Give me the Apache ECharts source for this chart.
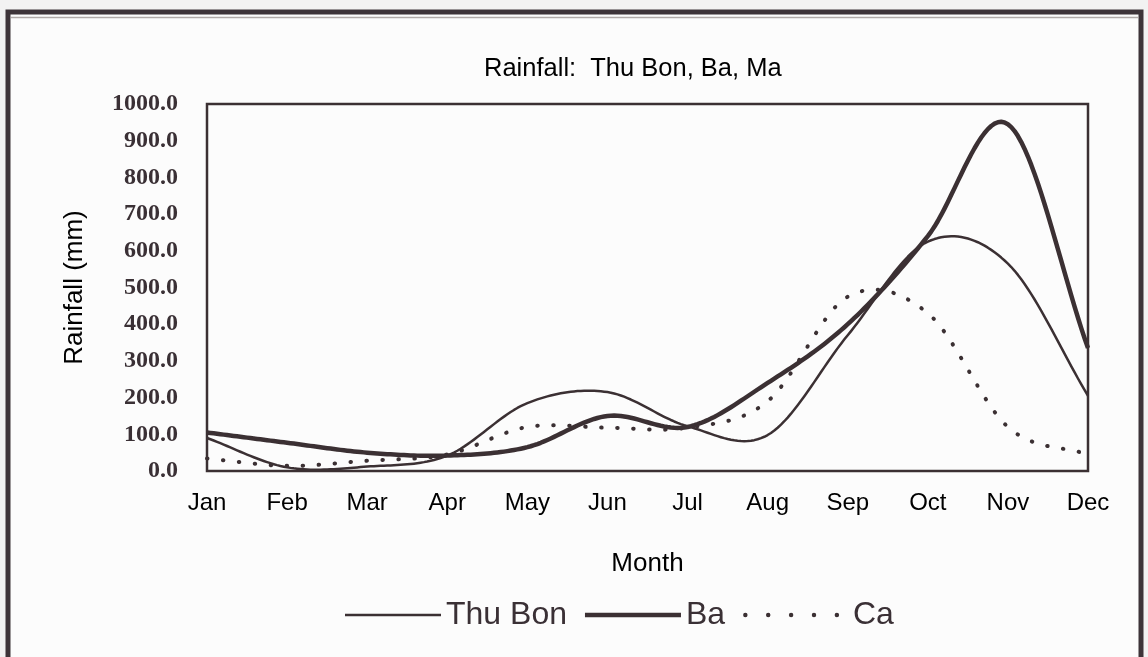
<!DOCTYPE html>
<html>
<head>
<meta charset="utf-8">
<script src="https://cdn.jsdelivr.net/npm/echarts@6/dist/echarts.min.js"></script>
<style>
html,body{margin:0;padding:0;background:#f2f2f2;}
#chart{width:1148px;height:657px;}
</style>
</head>
<body>
<div id="chart"></div>
<script>
var months = ['Jan','Feb','Mar','Apr','May','Jun','Jul','Aug','Sep','Oct','Nov','Dec'];
var thuBon = [90, 10, 12, 42, 185, 215, 122, 98, 370, 625, 565, 205];
var ba     = [105, 77, 50, 42, 65, 150, 120, 240, 400, 640, 945, 335];
var ca     = [34, 14, 28, 45, 120, 118, 118, 190, 475, 430, 120, 45];
var yTicks = {min: 0, max: 1000, interval: 100};

var ink = '#3b3033';

// Excel-style (Catmull-Rom) smoothed line through the monthly points, in pixel space
function splineRenderer(values, width, dash) {
  return function (params, api) {
    if (params.dataIndex !== 0) return null;
    var p = values.map(function (v, i) { return api.coord([i, v]); });
    var n = p.length, out = [], steps = 24;
    for (var i = 0; i < n - 1; i++) {
      var p0 = p[Math.max(i - 1, 0)], p1 = p[i], p2 = p[i + 1], p3 = p[Math.min(i + 2, n - 1)];
      var m1 = [(p2[0] - p0[0]) / 2, (p2[1] - p0[1]) / 2];
      var m2 = [(p3[0] - p1[0]) / 2, (p3[1] - p1[1]) / 2];
      if (i === 0) m1 = [(p2[0] - p1[0]), (p2[1] - p1[1])];
      if (i === n - 2) m2 = [(p2[0] - p1[0]), (p2[1] - p1[1])];
      for (var s = (i === 0 ? 0 : 1); s <= steps; s++) {
        var t = s / steps, t2 = t * t, t3 = t2 * t;
        var h00 = 2 * t3 - 3 * t2 + 1, h10 = t3 - 2 * t2 + t, h01 = -2 * t3 + 3 * t2, h11 = t3 - t2;
        out.push([
          h00 * p1[0] + h10 * m1[0] + h01 * p2[0] + h11 * m2[0],
          h00 * p1[1] + h10 * m1[1] + h01 * p2[1] + h11 * m2[1]
        ]);
      }
    }
    var style = {stroke: ink, lineWidth: width, fill: 'none', lineJoin: 'round'};
    if (dash) { style.lineDash = dash; style.lineCap = 'round'; }
    return {type: 'polyline', shape: {points: out}, style: style};
  };
}

function dotsIcon() {
  var d = '';
  for (var k = 0; k < 5; k++) {
    var cx = 2 + k * 20.5;
    d += 'M' + cx + ',0 A2,2 0 1 1 ' + cx + ',4 A2,2 0 1 1 ' + cx + ',0 Z ';
  }
  return 'path://' + d;
}

function pairs(values) { return values.map(function (v, i) { return [i, v]; }); }

var chart = echarts.init(document.getElementById('chart'));
chart.setOption({
  backgroundColor: '#f2f2f2',
  animation: false,
  graphic: [
    {type:'rect', z:-10, silent:true, shape:{x:8, y:12, width:1133, height:700},
     style:{fill:'#fcfcfc', stroke:'#3d3439', lineWidth:5}},
    {type:'line', z:-9, silent:true, shape:{x1:11, y1:17.5, x2:1138, y2:17.5},
     style:{stroke:'#b0aaa8', lineWidth:1.5}}
  ],
  title: {
    text: 'Rainfall:  Thu Bon, Ba, Ma',
    left: 484, top: 56, padding: 0,
    textStyle: {fontFamily:'Liberation Sans', fontSize:25.5, fontWeight:'normal', color:'#000'}
  },
  legend: {
    left: 340, top: 594,
    itemWidth: 96, itemHeight: 14, itemGap: 18,
    symbolKeepAspect: true,
    textStyle: {fontFamily:'Liberation Sans', fontSize:32, color:'#3a3035'},
    formatter: function (name) { return name === 'Ca' ? ' Ca' : name; },
    data: [
      {name:'Thu Bon', icon:'path://M0,0H96V2.5H0Z'},
      {name:'Ba', icon:'path://M0,0H96V4.5H0Z'},
      {name:'Ca', icon: dotsIcon()}
    ]
  },
  grid: {
    left: 207, right: 60, top: 104, bottom: 186,
    show: true, borderColor: ink, borderWidth: 2.5, backgroundColor: 'transparent'
  },
  xAxis: {
    type: 'category', data: months, boundaryGap: false,
    axisLine: {show:false}, axisTick: {show:false}, splitLine: {show:false},
    axisLabel: {fontFamily:'Liberation Sans', fontSize:24, color:'#000', margin:20},
    name: 'Month', nameLocation: 'middle', nameGap: 80,
    nameTextStyle: {fontFamily:'Liberation Sans', fontSize:26, color:'#000'}
  },
  yAxis: {
    type: 'value', min: yTicks.min, max: yTicks.max, interval: yTicks.interval,
    axisLine: {show:false}, axisTick: {show:false}, splitLine: {show:false},
    axisLabel: {fontFamily:'Liberation Serif', fontWeight:'bold', fontSize:24, color:'#3a3035', margin:29,
      formatter: function(v){ return v.toFixed(1); }},
    name: 'Rainfall (mm)', nameLocation: 'middle', nameGap: 119,
    nameTextStyle: {fontFamily:'Liberation Sans', fontSize:26, color:'#000'}
  },
  series: [
    {name:'Thu Bon', type:'custom', data: pairs(thuBon), itemStyle:{color:ink},
     encode:{x:0, y:1}, renderItem: splineRenderer(thuBon, 2.5)},
    {name:'Ba', type:'custom', data: pairs(ba), itemStyle:{color:ink},
     encode:{x:0, y:1}, renderItem: splineRenderer(ba, 4.5)},
    {name:'Ca', type:'custom', data: pairs(ca), itemStyle:{color:ink},
     encode:{x:0, y:1}, renderItem: splineRenderer(ca, 4, [0.5, 15.5])}
  ]
});
</script>
</body>
</html>
